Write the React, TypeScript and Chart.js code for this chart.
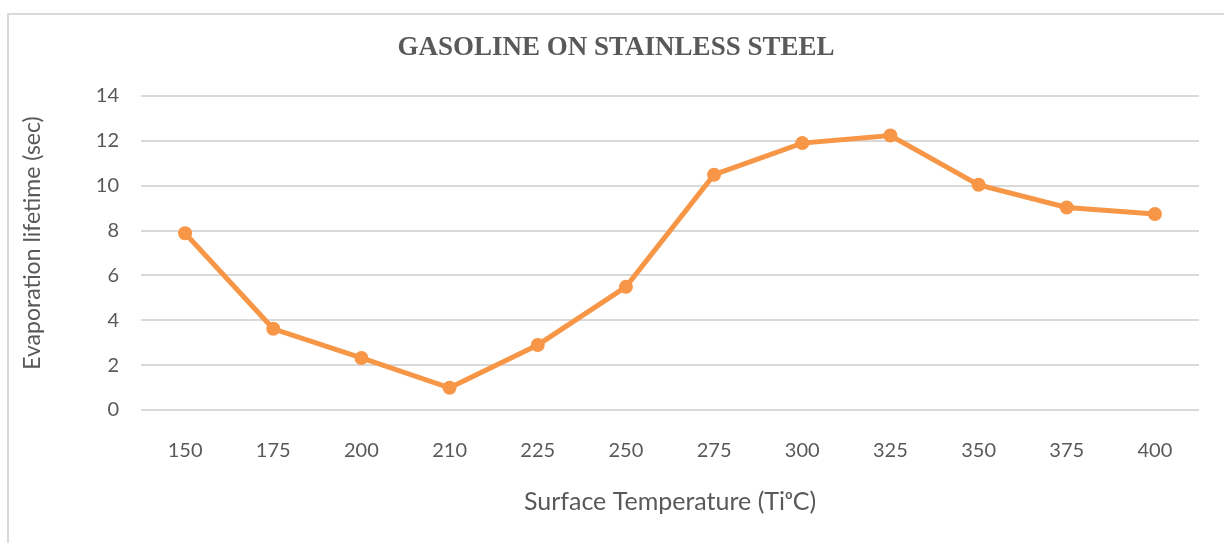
import React, { useEffect, useRef } from "react";
import { Chart, registerables } from "chart.js";

Chart.register(...registerables);

const categories = ["150", "175", "200", "210", "225", "250", "275", "300", "325", "350", "375", "400"];
const lifetimes = [7.88, 3.62, 2.32, 0.99, 2.9, 5.49, 10.49, 11.9, 12.24, 10.04, 9.03, 8.74];
const yTicks = [0, 2, 4, 6, 8, 10, 12, 14];

const chartTitle = "GASOLINE ON STAINLESS STEEL";
const xTitle = "Surface Temperature (Ti\u1D52C)";
const yTitle = "Evaporation lifetime (sec)";

const textColor = "#595959";
const gridColor = "#d9d9d9";
const lineColor = "#F79646";
const sansFont = "Lato";

const yTitlePlugin = {
  id: "yTitlePlugin",
  afterDraw(chart: any) {
    const { ctx, chartArea } = chart;
    ctx.save();
    ctx.fillStyle = textColor;
    ctx.font = `23px ${sansFont}`;
    ctx.textAlign = "center";
    ctx.textBaseline = "middle";
    ctx.translate(33, (chartArea.top + chartArea.bottom) / 2 - 10);
    ctx.rotate(-Math.PI / 2);
    ctx.fillText(yTitle, 0, 0);
    ctx.restore();
  },
};

export default function App() {
  const ref = useRef<HTMLCanvasElement | null>(null);

  useEffect(() => {
    if (!ref.current) return;
    const chart = new Chart(ref.current, {
      type: "line",
      data: {
        labels: categories,
        datasets: [
          {
            data: lifetimes,
            borderColor: lineColor,
            backgroundColor: lineColor,
            borderWidth: 5,
            pointRadius: 7,
            pointHoverRadius: 7,
            pointBorderWidth: 0,
            pointBackgroundColor: lineColor,
            tension: 0,
          },
        ],
      },
      plugins: [yTitlePlugin],
      options: {
        responsive: false,
        animation: false,
        layout: { padding: { left: 33, right: 25, top: 0, bottom: 0 } },
        plugins: {
          legend: { display: false },
          tooltip: { enabled: false },
          title: {
            display: true,
            text: chartTitle,
            color: textColor,
            font: { family: "Liberation Serif", size: 27, weight: "bold", lineHeight: 1 },
            padding: { top: 35, bottom: 34 },
          },
        },
        scales: {
          x: {
            offset: true,
            grid: { display: false, drawTicks: false },
            border: { display: false },
            ticks: {
              color: textColor,
              font: { family: sansFont, size: 20 },
              padding: 29,
              maxRotation: 0,
            },
            title: {
              display: true,
              text: xTitle,
              color: textColor,
              font: { family: sansFont, size: 25 },
              padding: { top: 0, bottom: 26 },
            },
            afterFit: (s: any) => {
              s.height = 133;
            },
          },
          y: {
            min: 0,
            max: 14,
            afterBuildTicks: (s: any) => {
              s.ticks = yTicks.map((v) => ({ value: v }));
            },
            grid: { color: gridColor, lineWidth: 2, drawTicks: false },
            border: { display: false },
            ticks: {
              color: textColor,
              font: { family: sansFont, size: 20 },
              padding: 22,
            },
            title: { display: false },
            afterFit: (s: any) => {
              s.width = 108;
            },
          },
        },
      },
    });
    return () => chart.destroy();
  }, []);

  return (
    <div style={{ position: "fixed", left: 0, top: 0, width: 1224, height: 543, background: "#fff", overflow: "hidden" }}>
      <div
        style={{
          position: "absolute",
          left: 7,
          top: 13,
          width: 1240,
          height: 560,
          border: "2px solid #d9d9d9",
        }}
      />
      <canvas ref={ref} width={1224} height={543} style={{ position: "absolute", left: 0, top: 0 }} />
    </div>
  );
}
